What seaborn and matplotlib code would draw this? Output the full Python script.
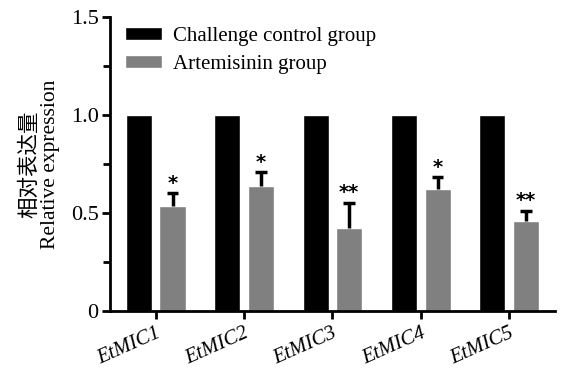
import numpy as np
import pandas as pd
import matplotlib
matplotlib.use("Agg")
import matplotlib.pyplot as plt
import seaborn as sns
from matplotlib.ticker import MultipleLocator

genes = ["EtMIC1", "EtMIC2", "EtMIC3", "EtMIC4", "EtMIC5"]
groups = ["Challenge control group", "Artemisinin group"]
control_vals = [1.0, 1.0, 1.0, 1.0, 1.0]
art_vals = [0.537, 0.639, 0.425, 0.624, 0.458]
art_err = [0.063, 0.069, 0.128, 0.058, 0.053]
signif = ["*", "*", "**", "*", "**"]
y_ticks = [0, 0.5, 1.0, 1.5]
y_ticklabels = ["0", "0.5", "1.0", "1.5"]

sns.set_style("ticks")
plt.rcParams['font.family'] = ['Liberation Serif', 'Noto Sans CJK SC', 'DejaVu Sans']
plt.rcParams['text.color'] = 'black'
plt.rcParams['axes.labelcolor'] = 'black'
plt.rcParams['xtick.color'] = 'black'
plt.rcParams['ytick.color'] = 'black'
plt.rcParams['axes.edgecolor'] = 'black'

df = pd.DataFrame({
    "gene": genes * 2,
    "group": [groups[0]] * len(genes) + [groups[1]] * len(genes),
    "value": control_vals + art_vals,
})

fig = plt.figure(figsize=(5.63, 3.70), dpi=100)
ax = fig.add_axes([0.195, 0.1595, 0.791, 0.7945])

sns.barplot(data=df, x="gene", y="value", hue="group", order=genes,
            hue_order=groups, palette=["#000000", "#808080"],
            width=0.76, gap=0.22, errorbar=None, ax=ax, saturation=1)

# upper-only error bars on the artemisinin bars
cont = ax.containers[1]
xs = np.array([p.get_x() + p.get_width() / 2 for p in cont.patches])
vals = np.array(art_vals)
errs = np.array(art_err)
cap = 0.065
ax.vlines(xs, vals, vals + errs, color="black", lw=2.5, zorder=3)
ax.hlines(vals + errs, xs - cap, xs + cap, color="black", lw=2.5, zorder=3)
for x, v, e, s in zip(xs, vals, errs, signif):
    ax.text(x, v + e + 0.003, s, ha="center", va="bottom",
            fontsize=14, fontweight="bold", family="DejaVu Sans")

ax.set_xlim(-0.52, 4.52)
ax.set_ylim(0, 1.5)
ax.set_yticks(y_ticks)
ax.set_yticklabels(y_ticklabels)
ax.yaxis.set_minor_locator(MultipleLocator(0.25))
ax.tick_params(axis="y", which="major", length=6, width=2, labelsize=16, pad=2)
ax.tick_params(axis="y", which="minor", length=5, width=2)
ax.tick_params(axis="x", which="major", length=6, width=2, labelsize=15, pad=3)
ax.set_xticks(range(len(genes)))
ax.set_xticklabels(genes, rotation=24, ha="right", rotation_mode="anchor",
                   fontstyle="italic")
ax.set_xlabel("")
ax.set_ylabel("相对表达量\nRelative expression", fontsize=15.5, linespacing=1.05,
              labelpad=8)
for sp in ["left", "bottom"]:
    ax.spines[sp].set_linewidth(2)
sns.despine(ax=ax)

leg = ax.legend(loc="upper left", bbox_to_anchor=(0.015, 0.995), frameon=False,
                fontsize=15, handlelength=1.8, handleheight=0.6,
                labelspacing=0.45, handletextpad=0.5, borderaxespad=0)

fig.savefig("out.png", dpi=100)
